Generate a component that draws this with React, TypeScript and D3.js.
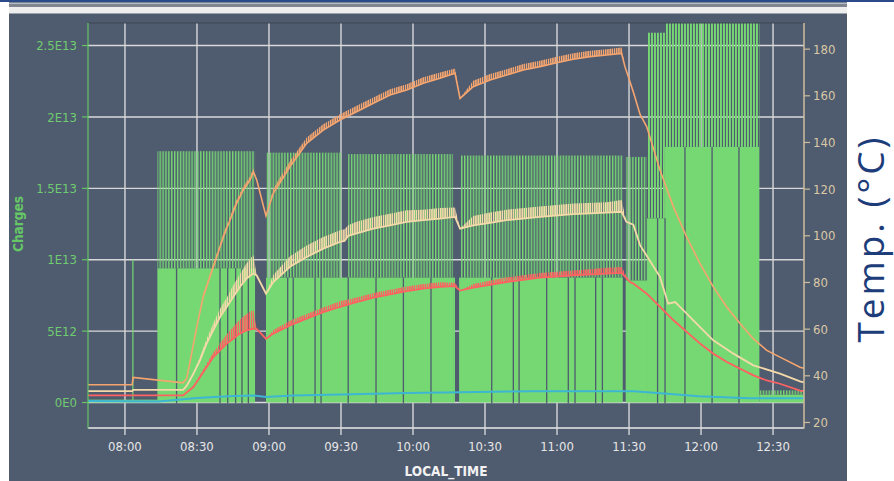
import React from 'react';
import * as d3 from 'd3';

const W = 894;
const H = 481;

// Time values are minutes after 08:00
const timeStart = -15.4;
const timeEnd = 282.9;
const xTickLabels = ['08:00', '08:30', '09:00', '09:30', '10:00', '10:30', '11:00', '11:30', '12:00', '12:30'];
const leftTicks = [0, 5e12, 1e13, 1.5e13, 2e13, 2.5e13];
const leftDomain = [-1.75e12, 2.658e13];
const rightTicks = [20, 40, 60, 80, 100, 120, 140, 160, 180];
const rightDomain = [17.85, 191.2];

// Charges: [start, end, base level, pulse peak level]
const chargeSegments: number[][] = [
  [-15.4, 13.5, 0.2e12, 0.2e12],
  [13.5, 54.2, 9.4e12, 1.76e13],
  [58.75, 90.3, 8.75e12, 1.75e13],
  [90.3, 93.0, 8.75e12, 8.75e12],
  [93.0, 136.7, 8.75e12, 1.74e13],
  [136.7, 137.5, 8.75e12, 8.75e12],
  [139.2, 140.0, 8.75e12, 8.75e12],
  [140.0, 207.4, 8.75e12, 1.73e13],
  [208.6, 217.5, 8.55e12, 1.72e13],
  [217.5, 225.0, 1.29e13, 2.59e13],
  [225.0, 264.3, 1.79e13, 2.75e13],
  [264.3, 282.9, 0.55e12, 0.85e12],
];
const chargeDropouts = [21.5, 39.6, 42.8, 46.1, 48.75, 51.4, 67.8, 70.1, 79.2, 81.7, 93.0, 104.6, 116.0, 127.5,
  152.8, 161.8, 164.2, 175.7, 184.7, 187.5, 196.1, 198.9, 221.9, 225.0, 233.3, 244.6, 255.8];
const chargeSingles: number[][] = [[3.3, 1.0e13]];

// Temperatures: [minute, degC, pulse noise amplitude degC]
const tempOrange: number[][] = [
  [-15.4, 36.2, 0], [3.0, 36.2, 0], [3.4, 39.3, 0], [24.2, 37.0, 0], [25.7, 38.9, 0], [27.0, 45.3, 0],
  [29.9, 60.9, 0.5], [32.6, 73.8, 1.5], [35.4, 82.4, 1.5], [38.2, 90.9, 1.5], [41.0, 99.5, 1.5], [43.75, 106.7, 1.5],
  [46.5, 113.9, 1.5], [49.3, 119.6, 1.5], [52.1, 123.9, 1.5], [53.5, 127.4, 1.5], [54.9, 123.9, 0], [58.75, 108.5, 0],
  [61.8, 118.2, 2], [68.75, 129.6, 2.5], [75.7, 139.6, 2.5], [82.6, 145.3, 2.5], [89.6, 149.6, 2.5], [96.5, 153.2, 2.5],
  [103.5, 156.8, 2.5], [110.4, 160.3, 2.5], [117.4, 162.5, 2.5], [124.3, 165.4, 2.5], [131.25, 167.5, 2.5],
  [137.5, 169.7, 2], [139.6, 158.9, 0], [145.1, 163.9, 2.5], [152.1, 166.8, 2.5], [159, 168.9, 2.5], [166, 171.1, 2.5],
  [172.9, 172.5, 2.5], [179.9, 174.2, 2.5], [186.8, 175.7, 2.5], [193.75, 176.8, 2.5], [200.7, 177.5, 2.5],
  [206.9, 178.2, 2.5], [208.3, 172.5, 0], [210.4, 166, 0], [212, 161, 0], [214.6, 152, 0], [217.4, 146.7, 0],
  [222.9, 128.2, 0], [228.5, 112.4, 0], [234, 99.5, 0], [239.6, 88.1, 0], [245.1, 78.1, 0], [250.7, 69.5, 0],
  [256.25, 62.4, 0], [261.8, 55.9, 0], [267.4, 50.9, 0], [272.9, 48.0, 0], [281.25, 43.7, 0], [282.9, 43.2, 0],
];
const tempCream: number[][] = [
  [-15.4, 33.4, 0], [3.0, 33.4, 0], [3.4, 34.0, 0], [24.2, 34.0, 0], [25.7, 35.7, 0], [28.5, 40.9, 0.5],
  [31.25, 46.6, 1.5], [34, 53.8, 2], [36.8, 59.5, 3], [39.6, 65.2, 3.5], [42.4, 69.5, 4], [45.1, 73.8, 5],
  [47.9, 78.1, 5.5], [50.7, 81.7, 6.5], [53.5, 83.8, 8], [54.9, 83.0, 0], [58.75, 75.2, 0], [61.8, 80.2, 3],
  [68.75, 86.7, 4.5], [75.7, 90.9, 5], [82.6, 94.5, 5], [89.6, 97.4, 5], [91.5, 97.8, 5], [93, 100, 4.5],
  [96.5, 101, 5], [103.5, 103.1, 5], [110.4, 104.5, 5], [117.4, 106, 5], [124.3, 106.7, 4.5], [131.25, 107.4, 4.5],
  [137.5, 108.1, 4], [139.6, 103.1, 0], [145.1, 104.5, 4], [152.1, 105.5, 4.5], [159, 106.7, 4.5],
  [172.9, 108.1, 4.5], [186.8, 109.3, 4.5], [200.7, 109.9, 4.5], [206.9, 110.3, 5], [208.9, 106, 0],
  [211.8, 104.8, 0], [214.6, 96, 0], [222.9, 82.4, 0], [226.3, 70.9, 0], [229.2, 71.6, 0], [231.25, 69.5, 0],
  [236.8, 63.8, 0], [245.1, 55.2, 0], [253.5, 49.5, 0], [261.8, 44.5, 0], [272.9, 40.9, 0], [281.25, 37.6, 0],
  [282.9, 37.2, 0],
];
const tempRed: number[][] = [
  [-15.4, 31.6, 0], [24.2, 31.6, 0], [28.5, 35.2, 0.5], [31.25, 39.4, 1], [34, 43.7, 1.5], [36.8, 48, 2],
  [39.6, 50.9, 3], [42.4, 53.8, 4], [45.1, 55.9, 5], [47.9, 58.1, 6], [50.7, 59.5, 7], [53.5, 60.2, 8],
  [54.9, 60.0, 0], [58.75, 55.9, 0], [61.8, 58.1, 1.5], [68.75, 61.6, 2], [75.7, 64.5, 2], [82.6, 67.3, 2],
  [89.6, 69.5, 2.5], [96.5, 71.6, 2], [103.5, 73.5, 2], [110.4, 74.9, 2], [117.4, 76.3, 2], [124.3, 77.4, 2],
  [131.25, 78.1, 2], [137.5, 78.4, 1.5], [139.6, 76.5, 0], [145.1, 77.8, 1.5], [159, 80.2, 2], [172.9, 82.1, 2],
  [186.8, 83.1, 2], [200.7, 83.8, 2.5], [206.9, 84.1, 2.5], [210.4, 80.2, 0], [211.8, 79.5, 0], [217.4, 75.2, 0],
  [222.9, 69.5, 0.5], [228.5, 63.8, 0.5], [234, 58.8, 0.5], [239.6, 53.8, 0.5], [245.1, 49.5, 0.5],
  [250.7, 45.9, 0.5], [256.25, 43, 0.5], [261.8, 40.2, 0.5], [267.4, 38, 0], [272.9, 36.6, 0], [281.25, 33.7, 0],
  [282.9, 33.4, 0],
];
const tempCyan: number[][] = [
  [-15.4, 29.2, 0], [14, 29.0, 0], [30, 30.5, 0], [45, 31.3, 0], [53.5, 31.6, 0], [58.75, 30.9, 0], [70, 31.6, 0],
  [90, 32.0, 0], [117, 32.6, 0], [140, 33.0, 0], [170, 33.4, 0], [212, 33.4, 0], [226, 32.3, 0], [239, 31.2, 0],
  [260, 30.4, 0], [282.9, 30.4, 0],
];

const BG = '#4f5b6f';
const GREEN = '#76d873';
const C_ORANGE = '#f5a56f';
const C_CREAM = '#f4d9a9';
const C_RED = '#ff6262';
const C_CYAN = '#3db6d3';
const FONT = "'DejaVu Sans Condensed', 'DejaVu Sans', sans-serif";

const parseHM = d3.timeParse('%H:%M');
const base = parseHM('08:00') as Date;
const toDate = (m: number) => new Date(base.getTime() + m * 60000);

const fmtE = (v: number) => {
  if (v === 0) return '0E0';
  const e = Math.floor(Math.log10(v) + 1e-9);
  const m = +(v / Math.pow(10, e)).toFixed(2);
  return `${m}E${e}`;
};

const PL = 88, PR = 804, PT = 23, PB = 427.5;

export default function App() {
  const x = d3.scaleTime().domain([toDate(timeStart), toDate(timeEnd)]).range([PL, PR]);
  const yL = d3.scaleLinear().domain(leftDomain).range([PB, PT]);
  const yR = d3.scaleLinear().domain(rightDomain).range([PB, PT]);
  const xt = (m: number) => x(toDate(m));
  const xTicks = xTickLabels.map((s) => parseHM(s) as Date);

  const line = d3.line<number[]>().x((d) => xt(d[0])).y((d) => yR(d[1]));
  const band = d3.area<number[]>().x((d) => xt(d[0])).y0((d) => yR(d[1])).y1((d) => yR(d[1] + d[2]));

  const fillAt = (t: number) => {
    const s = chargeSegments.find((g) => t >= g[0] && t <= g[1]);
    return s ? s[2] : 0;
  };

  const series = [
    { id: 'cy', data: tempCyan, color: C_CYAN, w: 2 },
    { id: 'rd', data: tempRed, color: C_RED, w: 1.8 },
    { id: 'cr', data: tempCream, color: C_CREAM, w: 1.8 },
    { id: 'or', data: tempOrange, color: C_ORANGE, w: 1.6 },
  ];

  return (
    <svg width={W} height={H} style={{ position: 'absolute', left: 0, top: 0, background: '#ffffff' }}>
      <defs>
        <clipPath id="plot">
          <rect x={PL} y={PT} width={PR - PL} height={PB - PT} />
        </clipPath>
        <pattern id="spk" patternUnits="userSpaceOnUse" width="2.9" height="4">
          <rect x="0" y="0" width="1.45" height="4" fill={GREEN} />
        </pattern>
        <pattern id="spkD" patternUnits="userSpaceOnUse" width="3" height="4">
          <rect x="0" y="0" width="1.9" height="4" fill={GREEN} />
        </pattern>
        {series.map((s) => (
          <pattern key={s.id} id={`bp-${s.id}`} patternUnits="userSpaceOnUse" width="2.2" height="4">
            <rect x="0" y="0" width="1.5" height="4" fill={s.color} />
          </pattern>
        ))}
      </defs>

      {/* frame */}
      <rect x={0} y={0} width={W} height={2} fill="#2a4a8a" />
      <rect x={9} y={2} width={838} height={1} fill="#7a8594" />
      <rect x={9} y={3} width={838} height={1} fill="#b8bec8" />
      <rect x={9} y={4} width={838} height={3} fill="#80868f" />
      <rect x={9} y={7} width={838} height={6} fill="#eeeeee" />
      <rect x={9} y={13} width={838} height={1} fill="#9ca2aa" />
      <rect x={9} y={14} width={838} height={H - 14} fill={BG} />

      {/* grid */}
      {xTicks.map((d, i) => (
        <line key={`gx${i}`} x1={x(d)} x2={x(d)} y1={PT} y2={PB} stroke="#d8d8d8" strokeWidth={1.4} />
      ))}
      {leftTicks.map((v, i) => (
        <line key={`gy${i}`} x1={PL} x2={PR} y1={yL(v)} y2={yL(v)} stroke="#d8d8d8" strokeWidth={1.4} />
      ))}

      <g clipPath="url(#plot)">
        {/* charges */}
        {chargeSegments.map((s, i) => (
          <rect key={`cf${i}`} x={xt(s[0])} width={xt(s[1]) - xt(s[0])} y={yL(s[2])} height={yL(0) - yL(s[2])} fill={GREEN} />
        ))}
        {chargeSegments.filter((s) => s[3] > s[2]).map((s, i) => (
          <rect key={`cp${i}`} x={xt(s[0])} width={xt(s[1]) - xt(s[0])} y={yL(s[3])} height={yL(s[2]) - yL(s[3])}
            fill={s[3] > 2e13 ? 'url(#spkD)' : 'url(#spk)'} />
        ))}
        {chargeSingles.map((s, i) => (
          <line key={`cs${i}`} x1={xt(s[0])} x2={xt(s[0])} y1={yL(0)} y2={yL(s[1])} stroke={GREEN} strokeWidth={1.2} />
        ))}
        {chargeDropouts.map((t, i) => (
          <line key={`cd${i}`} x1={xt(t)} x2={xt(t)} y1={yL(0) + 1} y2={yL(fillAt(t))} stroke={BG} strokeWidth={1.3} />
        ))}

        {/* temperatures */}
        {series.map((s) => (
          <g key={s.id}>
            <path d={band(s.data) || ''} fill={`url(#bp-${s.id})`} />
            <path d={line(s.data) || ''} fill="none" stroke={s.color} strokeWidth={s.w} />
          </g>
        ))}
      </g>

      {/* plot border */}
      <line x1={PL} x2={PR} y1={PT} y2={PT} stroke="#3c4655" strokeWidth={1.2} />
      <line x1={PL} x2={PR} y1={428} y2={428} stroke="#e8e8e8" strokeWidth={1.4} />

      {/* left axis */}
      <line x1={PL} x2={PL} y1={PT} y2={428.5} stroke="#66c466" strokeWidth={1.2} />
      {leftTicks.map((v, i) => (
        <g key={`lt${i}`}>
          <line x1={PL - 6} x2={PL} y1={yL(v)} y2={yL(v)} stroke="#66c466" strokeWidth={1.2} />
          <text x={PL - 11} y={yL(v)} dy="0.35em" textAnchor="end" fill="#6fcb6f" fontFamily={FONT} fontSize={13}>
            {fmtE(v)}
          </text>
        </g>
      ))}
      <text transform={`translate(23,224) rotate(-90)`} textAnchor="middle" fill="#66c766" fontFamily={FONT}
        fontSize={13.5} fontWeight="bold">Charges</text>

      {/* right axis */}
      <line x1={PR} x2={PR} y1={PT} y2={428.5} stroke="#cdbd9c" strokeWidth={1.5} />
      {rightTicks.map((v, i) => (
        <g key={`rt${i}`}>
          <line x1={PR} x2={PR + 6} y1={yR(v)} y2={yR(v)} stroke="#cdbd9c" strokeWidth={1.2} />
          <text x={PR + 9} y={yR(v)} dy="0.35em" textAnchor="start" fill="#d9c8a6" fontFamily={FONT} fontSize={13}>
            {v}
          </text>
        </g>
      ))}

      {/* bottom axis */}
      {xTicks.map((d, i) => (
        <g key={`bt${i}`}>
          <line x1={x(d)} x2={x(d)} y1={428} y2={435} stroke="#e8e8e8" strokeWidth={1.2} />
          <text x={x(d)} y={446} dy="0.35em" textAnchor="middle" fill="#e6e6e6" fontFamily={FONT} fontSize={13}>
            {xTickLabels[i]}
          </text>
        </g>
      ))}
      <text x={(PL + PR) / 2} y={471} dy="0.35em" textAnchor="middle" fill="#f2f2f2" fontFamily={FONT}
        fontSize={13.5} fontWeight="bold">LOCAL_TIME</text>

      {/* outer label */}
      <text transform={`translate(884,240) rotate(-90)`} textAnchor="middle" fill="#1d3c7a"
        fontFamily="'Open Sans', 'Liberation Sans', sans-serif" fontSize={37} textLength={205}
        lengthAdjust="spacing">Temp. (°C)</text>
    </svg>
  );
}
